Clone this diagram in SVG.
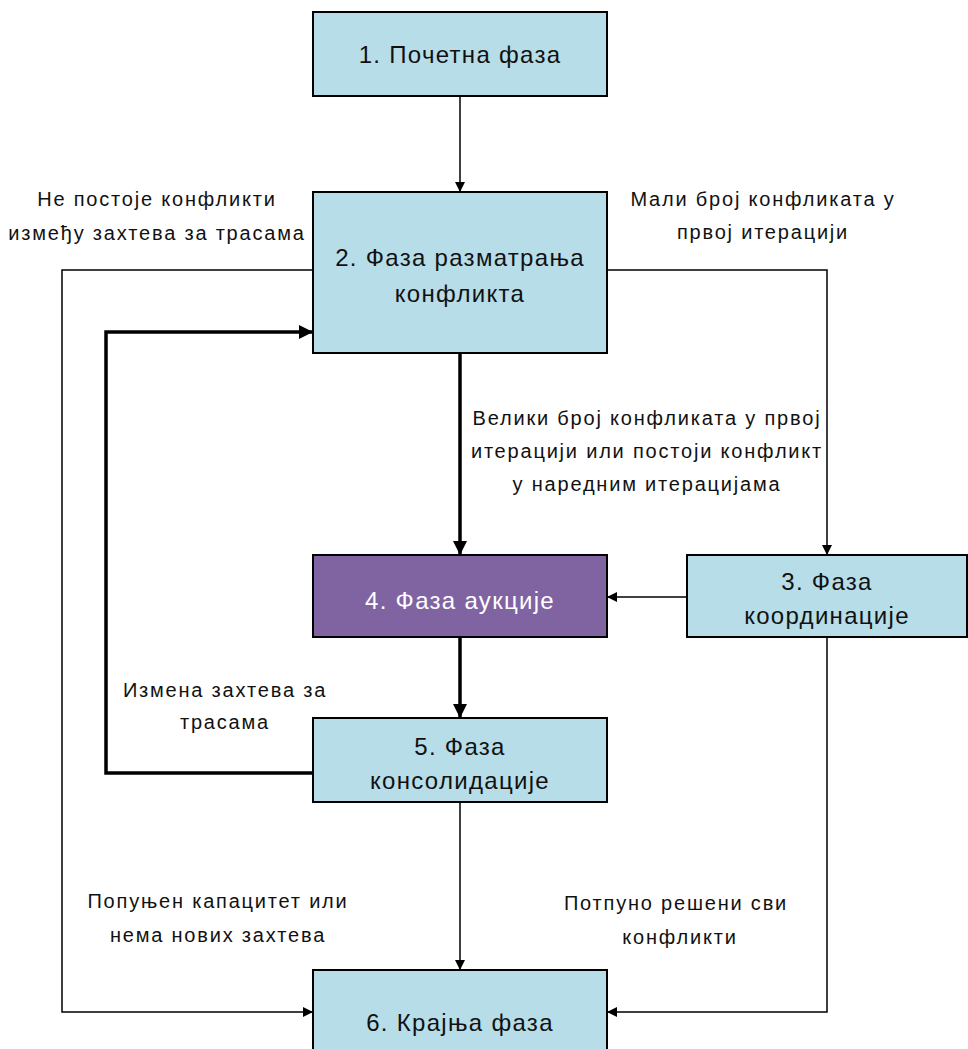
<svg xmlns="http://www.w3.org/2000/svg" width="968" height="1049" viewBox="0 0 968 1049">
  <style>
    .box { fill: #B7DDE8; stroke: #000; stroke-width: 2; }
    .auc { fill: #8064A2; stroke: #000; stroke-width: 2; }
    .bt { font-family: "Liberation Sans", "DejaVu Sans", sans-serif; font-size: 24px; letter-spacing: 1.3px; fill: #111; text-anchor: middle; }
    .wt { fill: #fff; }
    .lbl { font-family: "Liberation Sans", "DejaVu Sans", sans-serif; font-size: 20px; letter-spacing: 1.8px; fill: #111; text-anchor: middle; }
    .thin { fill: none; stroke: #000; stroke-width: 1.5; }
    .thick { fill: none; stroke: #000; stroke-width: 3.5; }
  </style>
  <defs>
    <marker id="ah" markerWidth="10" markerHeight="10" refX="9" refY="5" orient="auto" markerUnits="userSpaceOnUse">
      <path d="M0,0 L10,5 L0,10 Z" fill="#000"/>
    </marker>
    <marker id="ahb" markerWidth="14" markerHeight="14" refX="13" refY="7" orient="auto" markerUnits="userSpaceOnUse">
      <path d="M0,0 L14,7 L0,14 Z" fill="#000"/>
    </marker>
  </defs>

  <rect width="968" height="1049" fill="#fff"/>

  <g id="connectors">
    <!-- 1 -> 2 -->
    <path class="thin" d="M460,96 V191" marker-end="url(#ah)"/>
    <!-- 2 -> 4 -->
    <path class="thick" d="M460,353 V554" marker-end="url(#ahb)"/>
    <!-- 4 -> 5 -->
    <path class="thick" d="M460,637 V717" marker-end="url(#ahb)"/>
    <!-- 5 -> 6 -->
    <path class="thin" d="M460,802 V969" marker-end="url(#ah)"/>
    <!-- 2 -> 3 -->
    <path class="thin" d="M607,270 H827 V554" marker-end="url(#ah)"/>
    <!-- 3 -> 4 -->
    <path class="thin" d="M687,597 H608" marker-end="url(#ah)"/>
    <!-- 3 -> 6 -->
    <path class="thin" d="M827,637 V1012 H608" marker-end="url(#ah)"/>
    <!-- 2 -> 6 -->
    <path class="thin" d="M313,270 H62 V1012 H312" marker-end="url(#ah)"/>
    <!-- 5 -> 2 loop -->
    <path class="thick" d="M313,773 H106 V332 H312" marker-end="url(#ahb)"/>
  </g>

  <g id="edge-labels">
    <text class="lbl" x="157" y="206">Не постоје конфликти</text>
    <text class="lbl" x="157" y="240">између захтева за трасама</text>
    <text class="lbl" x="763" y="206">Мали број конфликата у</text>
    <text class="lbl" x="763" y="239">првој итерацији</text>
    <text class="lbl" x="647" y="425">Велики број конфликата у првој</text>
    <text class="lbl" x="647" y="458">итерацији или постоји конфликт</text>
    <text class="lbl" x="647" y="491">у наредним итерацијама</text>
    <text class="lbl" x="225" y="697">Измена захтева за</text>
    <text class="lbl" x="225" y="729">трасама</text>
    <text class="lbl" x="218" y="908">Попуњен капацитет или</text>
    <text class="lbl" x="218" y="942">нема нових захтева</text>
    <text class="lbl" x="676" y="910">Потпуно решени сви</text>
    <text class="lbl" x="680" y="944">конфликти</text>
  </g>

  <g id="n1">
    <rect class="box" x="313" y="12" width="294" height="84"/>
    <text class="bt" x="460" y="63">1. Почетна фаза</text>
  </g>
  <g id="n2">
    <rect class="box" x="313" y="192" width="294" height="161"/>
    <text class="bt" x="460" y="266">2. Фаза разматрања</text>
    <text class="bt" x="460" y="302">конфликта</text>
  </g>
  <g id="n3">
    <rect class="box" x="687" y="555" width="280" height="82"/>
    <text class="bt" x="827" y="590">3. Фаза</text>
    <text class="bt" x="827" y="624">координације</text>
  </g>
  <g id="n4">
    <rect class="auc" x="313" y="555" width="294" height="82"/>
    <text class="bt wt" x="460" y="609">4. Фаза аукције</text>
  </g>
  <g id="n5">
    <rect class="box" x="313" y="718" width="294" height="84"/>
    <text class="bt" x="460" y="755">5. Фаза</text>
    <text class="bt" x="460" y="789">консолидације</text>
  </g>
  <g id="n6">
    <rect class="box" x="313" y="970" width="294" height="90"/>
    <text class="bt" x="460" y="1031">6. Крајња фаза</text>
  </g>
</svg>
